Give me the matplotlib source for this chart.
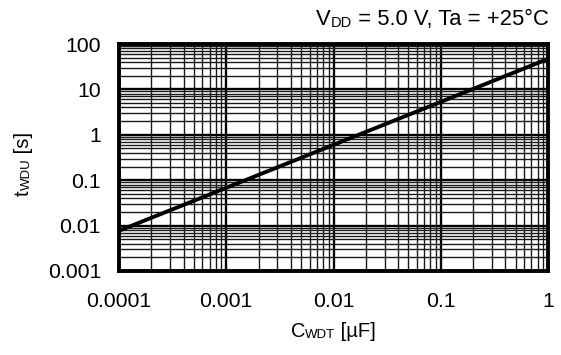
import matplotlib
matplotlib.use("Agg")
import matplotlib.pyplot as plt
import numpy as np

plt.rcParams['font.family'] = ['Liberation Sans', 'DejaVu Sans']

# Data
c_wdt = [0.0001, 0.001, 0.01, 0.1, 1.0]          # µF
t_wdu = [0.0077, 0.068, 0.6, 5.3, 47.0]          # s

x_ticks = [0.0001, 0.001, 0.01, 0.1, 1]
x_ticklabels = ['0.0001', '0.001', '0.01', '0.1', '1']
y_ticks = [0.001, 0.01, 0.1, 1, 10, 100]
y_ticklabels = ['0.001', '0.01', '0.1', '1', '10', '100']

W, H = 561, 355
fig = plt.figure(figsize=(W / 100, H / 100), dpi=100)
ax = fig.add_axes([119 / W, 1 - 271 / H, 429 / W, 227 / H])

ax.set_xscale('log')
ax.set_yscale('log')
ax.set_xlim(1e-4, 1)
ax.set_ylim(1e-3, 100)

ax.set_xticks(x_ticks)
ax.set_xticklabels(x_ticklabels)
ax.set_yticks(y_ticks)
ax.set_yticklabels(y_ticklabels)
ax.xaxis.set_minor_locator(matplotlib.ticker.LogLocator(base=10, subs=np.arange(2, 10)))
ax.yaxis.set_minor_locator(matplotlib.ticker.LogLocator(base=10, subs=np.arange(2, 10)))
ax.xaxis.set_minor_formatter(matplotlib.ticker.NullFormatter())
ax.yaxis.set_minor_formatter(matplotlib.ticker.NullFormatter())

ax.grid(True, which='major', color='black', linewidth=1.7)
ax.grid(True, which='minor', color='#1a1a1a', linewidth=1.0)
ax.set_axisbelow(True)

ax.tick_params(which='both', length=0, labelsize=15.3, colors='black')
ax.tick_params(axis='y', pad=13)
ax.tick_params(axis='x', pad=15)

for s in ax.spines.values():
    s.set_linewidth(2.8)
    s.set_color('black')

ax.plot(c_wdt, t_wdu, color='black', linewidth=2.8, solid_capstyle='butt', zorder=5)

BIG = 14.5
SMALL = 9.5

# x label: C + small WDT + [µF]
t1 = fig.text(0.5, 1 - 337 / H, 'C', fontsize=BIG, ha='right', va='baseline')
t2 = ax.annotate('WDT', xy=(1, 0), xycoords=t1, fontsize=SMALL, ha='left', va='bottom')
t3 = ax.annotate(' [µF]', xy=(1, 0), xycoords=t2, fontsize=BIG, ha='left', va='bottom')
fig.canvas.draw()
r = fig.canvas.get_renderer()
bb1 = t1.get_window_extent(r)
bb3 = t3.get_window_extent(r)
center = (bb1.x0 + bb3.x1) / 2
target = (119 + 548) / 2
t1.set_x(t1.get_position()[0] + (target - center) / W)

# y label: t + small WDU + [s], rotated
y1 = fig.text(33 / W, 1 - 196 / H, 't', fontsize=BIG, rotation=90, ha='right', va='bottom')
y2 = ax.annotate('WDU', xy=(1, 1), xycoords=y1, fontsize=SMALL, rotation=90, ha='right', va='bottom')
y3 = ax.annotate(' [s]', xy=(1, 1), xycoords=y2, fontsize=BIG, rotation=90, ha='right', va='bottom')

# title: V + small DD + rest
z3 = fig.text(549 / W, 1 - 25 / H, ' = 5.0 V, Ta = +25°C', fontsize=15.8, ha='right', va='baseline')
z2 = ax.annotate('DD', xy=(0, 0), xycoords=z3, fontsize=10.5, ha='right', va='bottom')
z1 = ax.annotate('V', xy=(0, 0), xycoords=z2, fontsize=15.8, ha='right', va='bottom')

fig.savefig('out.png', dpi=100)
